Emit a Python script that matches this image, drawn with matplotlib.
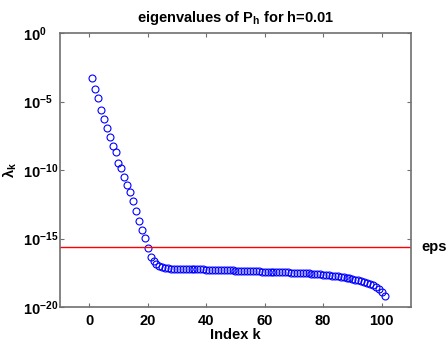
import numpy as np
import matplotlib.pyplot as plt

plt.rcParams['font.family'] = ['Liberation Sans', 'DejaVu Sans']
plt.rcParams['font.weight'] = 'bold'
plt.rcParams['mathtext.fontset'] = 'custom'
plt.rcParams['mathtext.rm'] = 'Liberation Sans:bold'
plt.rcParams['mathtext.bf'] = 'Liberation Sans:bold'
plt.rcParams['mathtext.it'] = 'Liberation Sans:bold'
plt.rcParams['mathtext.default'] = 'bf'

# decades below 1 of each eigenvalue (k = 1..101)
decades = [3.29, 4.12, 4.76, 5.62, 6.27, 6.94, 7.57, 8.24, 8.68, 9.46,
           9.87, 10.5, 11.1, 11.6, 12.28, 13.0, 13.7, 14.36, 14.98, 15.71,
           16.32, 16.64, 16.85, 17.0, 17.1, 17.15, 17.18,
           17.2, 17.22, 17.19, 17.23, 17.21, 17.2, 17.24, 17.22, 17.25, 17.23,
           17.26, 17.24, 17.27,
           17.27, 17.29, 17.28, 17.3, 17.29, 17.32, 17.31, 17.33, 17.32, 17.35,
           17.34, 17.36, 17.35, 17.37, 17.38, 17.37, 17.4, 17.39, 17.41, 17.43,
           17.42, 17.44, 17.43, 17.46, 17.45, 17.47, 17.48, 17.47, 17.5, 17.49,
           17.52, 17.51, 17.53, 17.55, 17.54, 17.57, 17.58, 17.6, 17.61, 17.63,
           17.65, 17.67, 17.7, 17.72, 17.75, 17.78, 17.82, 17.86, 17.9, 17.95,
           18.0, 18.05, 18.1, 18.16, 18.22, 18.3, 18.4, 18.52, 18.68, 18.9, 19.2]
k = np.arange(1, len(decades) + 1)
lam = 10.0 ** (-np.array(decades))
eps = 2.2204e-16

xticks = [0, 20, 40, 60, 80, 100]
yticks = [1e0, 1e-5, 1e-10, 1e-15, 1e-20]
ytick_labels = ['$10^{0}$', '$10^{-5}$', '$10^{-10}$', '$10^{-15}$', '$10^{-20}$']

fig = plt.figure(figsize=(4.48, 3.42), dpi=100)
ax = fig.add_axes([0.134, 0.1023, 0.783, 0.8012])

ax.semilogy(k, lam, 'o', mfc='none', mec='#0000ff', ms=5, mew=0.8)
ax.axhline(eps, color='#ff0000', lw=1)

ax.set_xlim(-10, 110)
ax.set_ylim(1e-20, 1e0)
ax.set_xticks(xticks)
ax.set_yticks(yticks)
ax.set_yticklabels(ytick_labels)
ax.yaxis.set_minor_locator(plt.NullLocator())
ax.tick_params(direction='in', top=True, right=True, length=3,
               color='#707070', labelsize=10.5)
ax.tick_params(axis='x', pad=5)
# MATLAB puts the "10" of every label in the same column
ax.tick_params(axis='y', pad=27)
for lbl in ax.get_yticklabels():
    lbl.set_horizontalalignment('left')
    lbl.set_verticalalignment('center_baseline')
for s in ax.spines.values():
    s.set_color('#707070')
    s.set_linewidth(1.2)

ax.text(1.03, eps, 'eps', transform=ax.get_yaxis_transform(),
        va='center', ha='left', fontsize=10.5, fontweight='bold')

ax.set_title('eigenvalues of P$_h$ for h=0.01', fontsize=10.5,
             fontweight='bold', pad=8)
ax.set_xlabel('Index k', fontsize=10.5, fontweight='bold', labelpad=0)
ax.set_ylabel(r'$\lambda_k$', fontsize=10.5)
ax.yaxis.set_label_coords(-0.117, 0.5)

fig.savefig('out.png', dpi=100)
